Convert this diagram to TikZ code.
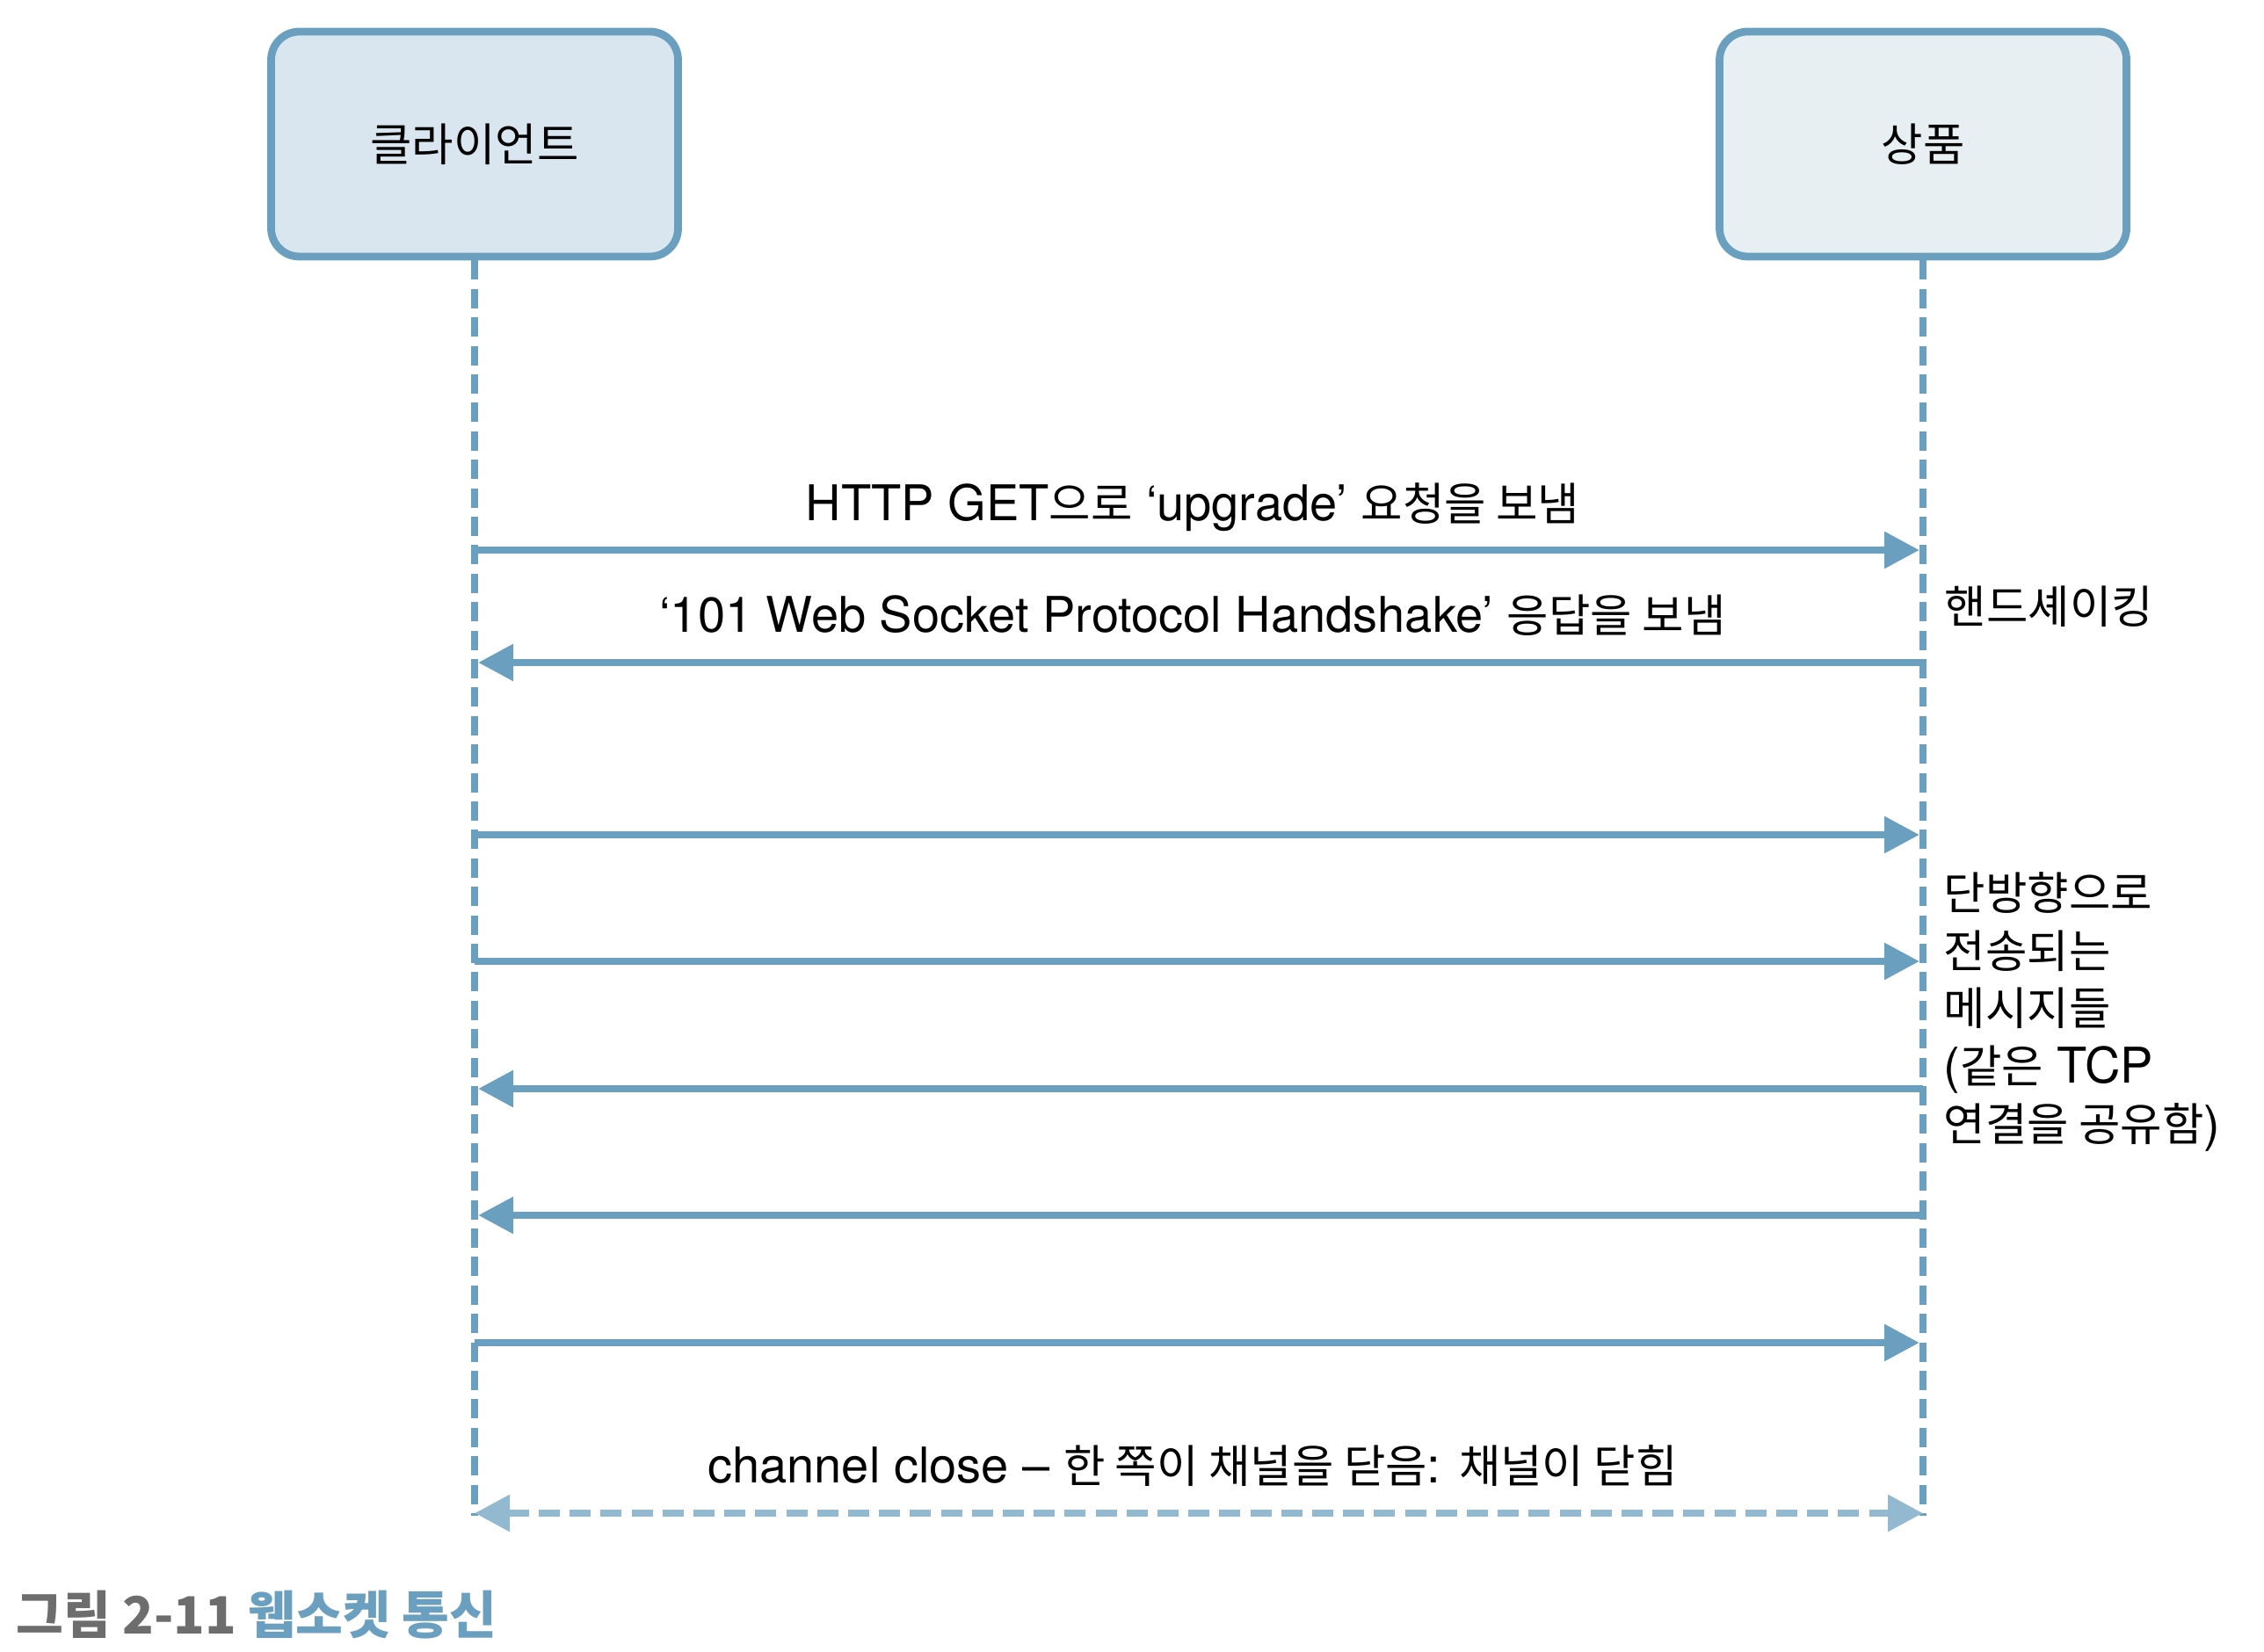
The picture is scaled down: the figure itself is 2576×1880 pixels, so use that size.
\documentclass[tikz,border=0pt]{standalone}
\usepackage{fontspec}
\setmainfont{TeX Gyre Heros}
\newfontfamily\kr{Noto Sans CJK KR}[Scale=0.92]
\usetikzlibrary{arrows.meta}
\definecolor{lineblue}{HTML}{6A9FBF}
\definecolor{lightblue}{HTML}{93B9D0}
\definecolor{clientfill}{HTML}{D9E6EF}
\definecolor{prodfill}{HTML}{E8EFF3}
\definecolor{capgray}{HTML}{6D6D6D}
\tikzset{
  actor/.style={draw=lineblue, line width=2.2pt, rounded corners=8pt, minimum width=463*0.25pt, minimum height=256*0.25pt, inner sep=0pt, font=\fontsize{14}{17}\selectfont},
  lifeline/.style={draw=lineblue, line width=1.8pt, dash pattern=on 5.5pt off 2.6pt},
  msg/.style={draw=lineblue, line width=2.2pt, -{Triangle[length=10pt,width=10pt]}, shorten >=1pt},
  closemsg/.style={draw=lightblue, line width=2.2pt, dash pattern=on 6pt off 2.8pt, {Triangle[length=10pt,width=10pt]}-{Triangle[length=10pt,width=10pt]}},
  lbl/.style={inner sep=0pt, font=\fontsize{14}{17}\selectfont},
  side/.style={inner sep=0pt, align=left, anchor=north west, font=\fontsize{14}{16.4}\selectfont},
}
\begin{document}
\begin{tikzpicture}[x=0.25pt,y=-0.25pt]
\useasboundingbox (0,0) rectangle (2576,1880);
\node[actor, fill=clientfill] (client) at (540,164) {\kr 클라이언트};
\node[actor, fill=prodfill] (product) at (2188,164) {\kr 상품};
\coordinate (cend) at (540,1725);
\coordinate (pend) at (2188,1725);
\draw[lifeline] (client.south) -- (cend);
\draw[lifeline] (product.south) -- (pend);
% messages
\foreach \n/\y in {1/626,2/754,3/950,4/1094,5/1239,6/1383,7/1528,8/1722}{
  \coordinate (c\n) at (540,\y);
  \coordinate (p\n) at (2188,\y);
}
\draw[msg] (c1) -- (p1);
\draw[msg] (p2) -- (c2);
\draw[msg] (c3) -- (p3);
\draw[msg] (c4) -- (p4);
\draw[msg] (p5) -- (c5);
\draw[msg] (p6) -- (c6);
\draw[msg] (c7) -- (p7);
\draw[closemsg] (c8) -- (p8);
% labels
\node[lbl] (l1) at (1357,577) {HTTP GET{\kr 으로} ‘upgrade’ {\kr 요청을 보냄}};
\node[lbl] (l2) at (1357,700) {‘101 Web Socket Protocol Handshake’ {\kr 응답을 보냄}};
\node[lbl] (l8) at (1357,1668) {channel close – {\kr 한 쪽이 채널을 닫음}: {\kr 채널이 닫힘}};
\node[lbl, anchor=west] (hs) at (2212,690) {\kr 핸드셰이킹};
\node[side] (uni) at (2211,992) {{\kr 단방향으로}\\{\kr 전송되는}\\{\kr 메시지들}\\({\kr 같은} TCP\\{\kr 연결을 공유함})};
% caption
\node[inner sep=0pt, anchor=west, font=\kr\bfseries\fontsize{15.9}{18}\selectfont] (cap) at (18,1838) {\textcolor{capgray}{그림 2-11} \textcolor{lineblue}{웹소켓 통신}};
\end{tikzpicture}
\end{document}
